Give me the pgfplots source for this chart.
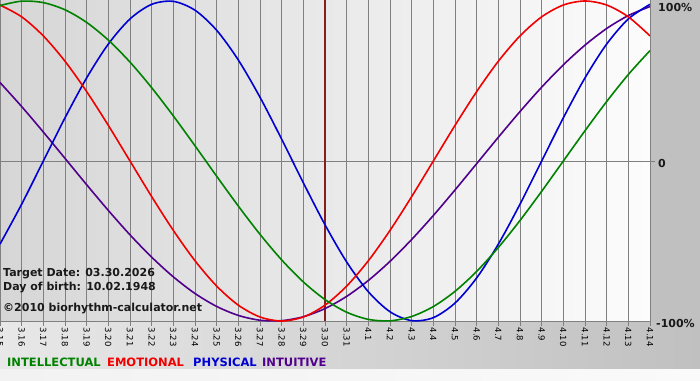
\documentclass[border=0pt]{standalone}
\usepackage{pgfplots}
\pgfplotsset{compat=1.18}
\usepackage{fontspec}
\setmainfont{DejaVu Sans}
\definecolor{cInt}{RGB}{0,130,0}
\definecolor{cEmo}{RGB}{240,0,0}
\definecolor{cPhy}{RGB}{0,0,210}
\definecolor{cIntu}{RGB}{80,0,140}
\definecolor{cMark}{RGB}{130,30,30}
\definecolor{cGrid}{RGB}{128,128,128}
\definecolor{cOuter}{RGB}{192,192,192}
\definecolor{cPlotL}{RGB}{214,214,214}
\definecolor{cPlotR}{RGB}{252,252,252}
\definecolor{cBelowL}{RGB}{232,232,232}
\definecolor{cBelowR}{RGB}{192,192,192}
\definecolor{cStripL}{RGB}{242,242,242}
\definecolor{cStripR}{RGB}{250,250,250}
\begin{document}
\begin{tikzpicture}[x=1pt,y=1pt]
\fill[cOuter] (0,-59) rectangle (700,321);
\fill[left color=cBelowL, right color=cBelowR] (0,-48) rectangle (700,0);
\fill[left color=cStripL, right color=cStripR] (0,-59) rectangle (700,-48);
\fill[left color=cPlotL, right color=cPlotR] (0,0) rectangle (650,321);
\begin{axis}[
  at={(0,0)}, anchor=south west,
  scale only axis, width=650pt, height=321pt,
  xmin=0, xmax=30, ymin=-1, ymax=1.00625,
  axis x line*=bottom, axis y line*=right,
  axis line style={cGrid, line width=0.8pt},
  xtick={0,...,30},
  xticklabels={3.15,3.16,3.17,3.18,3.19,3.20,3.21,3.22,3.23,3.24,3.25,3.26,3.27,3.28,3.29,3.30,3.31,4.1,4.2,4.3,4.4,4.5,4.6,4.7,4.8,4.9,4.10,4.11,4.12,4.13,4.14},
  xmajorgrids, ymajorgrids,
  ytick={0}, yticklabels={},
  grid style={cGrid, line width=0.8pt},
  tick align=outside, major tick length=5pt,
  tick style={cGrid, line width=0.8pt},
  xticklabel style={rotate=-90, anchor=west, font=\fontsize{8.5}{9}\selectfont, text=black, inner sep=1.5pt},
]
\addplot[cMark, line width=2pt] coordinates {(15,-1) (15,1.00625)};
\addplot[cIntu, line width=1.6pt, smooth] coordinates {
(0,0.4905) (1,0.3403) (2,0.1809) (3,0.0165) (4,-0.1483) (5,-0.3090) (6,-0.4614) (7,-0.6010) (8,-0.7241) (9,-0.8281) (10,-0.9090) (11,-0.9651) (12,-0.9951) (13,-0.9978) (14,-0.9733) (15,-0.9223) (16,-0.8461) (17,-0.7468) (18,-0.6272) (19,-0.4904) (20,-0.3407) (21,-0.1811) (22,-0.0165) (23,0.1483) (24,0.3090) (25,0.4614) (26,0.6010) (27,0.7241) (28,0.8281) (29,0.9090) (30,0.9651)};
\addplot[cPhy, line width=1.6pt, smooth] coordinates {
(0,-0.5196) (1,-0.2698) (2,0) (3,0.2698) (4,0.5196) (5,0.7308) (6,0.8879) (7,0.9791) (8,0.9977) (9,0.9423) (10,0.8170) (11,0.6311) (12,0.3984) (13,0.1362) (14,-0.1362) (15,-0.3984) (16,-0.6311) (17,-0.8170) (18,-0.9423) (19,-0.9977) (20,-0.9791) (21,-0.8879) (22,-0.7308) (23,-0.5196) (24,-0.2698) (25,0) (26,0.2698) (27,0.5196) (28,0.7308) (29,0.8879) (30,0.9791)};
\addplot[cEmo, line width=1.6pt, smooth] coordinates {
(0,0.9749) (1,0.9010) (2,0.7818) (3,0.6235) (4,0.4339) (5,0.2225) (6,0) (7,-0.2225) (8,-0.4339) (9,-0.6235) (10,-0.7818) (11,-0.9010) (12,-0.9749) (13,-1) (14,-0.9749) (15,-0.9010) (16,-0.7818) (17,-0.6235) (18,-0.4339) (19,-0.2225) (20,0) (21,0.2225) (22,0.4339) (23,0.6235) (24,0.7818) (25,0.9010) (26,0.9749) (27,1) (28,0.9749) (29,0.9010) (30,0.7818)};
\addplot[cInt, line width=1.6pt, smooth] coordinates {
(0,0.9718) (1,0.9989) (2,0.9898) (3,0.9450) (4,0.8660) (5,0.7557) (6,0.6182) (7,0.4582) (8,0.2817) (9,0.0951) (10,-0.0951) (11,-0.2817) (12,-0.4582) (13,-0.6182) (14,-0.7557) (15,-0.8660) (16,-0.9450) (17,-0.9898) (18,-0.9989) (19,-0.9718) (20,-0.9096) (21,-0.8146) (22,-0.6901) (23,-0.5406) (24,-0.3717) (25,-0.1893) (26,0) (27,0.1893) (28,0.3717) (29,0.5406) (30,0.6901)};
\end{axis}
\begin{scope}[every node/.style={inner sep=0pt, anchor=base west, font=\bfseries\fontsize{11}{13}\selectfont}]
\node[text=black!90] at (3,44.5) {Target Date: 03.30.2026};
\node[text=black!90] at (3,30.5) {Day of birth: 10.02.1948};
\node[text=black!90] at (3,10) {©2010 biorhythm-calculator.net};
\end{scope}
\begin{scope}[every node/.style={inner sep=0pt, anchor=base west, font=\bfseries\fontsize{11.5}{13}\selectfont}]
\node[text=cInt] at (7,-45) {INTELLECTUAL};
\node[text=cEmo] at (107,-45) {EMOTIONAL};
\node[text=cPhy] at (193,-45) {PHYSICAL};
\node[text=cIntu] at (262,-45) {INTUITIVE};
\end{scope}
\begin{scope}[every node/.style={inner sep=0pt, anchor=west, font=\bfseries\fontsize{11}{13}\selectfont, text=black!90}]
\node at (658,314) {100\%};
\node at (658,158) {0};
\node at (656,-2) {-100\%};
\end{scope}
\pgfresetboundingbox
\useasboundingbox (0,-59) rectangle (700,321);
\end{tikzpicture}
\end{document}
